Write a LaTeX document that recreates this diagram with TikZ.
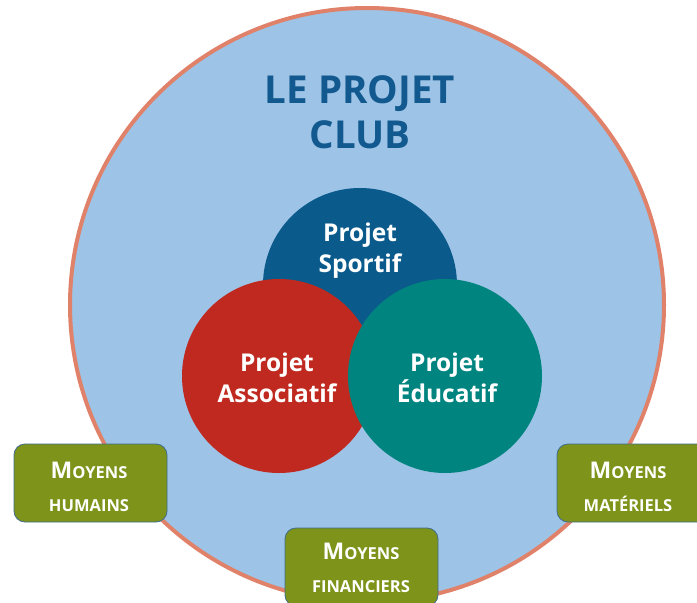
\documentclass[tikz,border=0pt]{standalone}
\usepackage{fontspec}
\setmainfont{Open Sans}
\definecolor{bigfill}{HTML}{9DC3E6}
\definecolor{bigline}{HTML}{E0826A}
\definecolor{sportc}{HTML}{0B5A8C}
\definecolor{assoc}{HTML}{C0291F}
\definecolor{educc}{HTML}{00847F}
\definecolor{boxc}{HTML}{7E931A}
\definecolor{boxline}{HTML}{3F6C8C}
\definecolor{titlec}{HTML}{11598F}
\newcommand{\bigM}{{\fontsize{23}{23}\selectfont M}}
\tikzset{
  proj/.style={circle, minimum size=194pt, inner sep=0pt},
  projtext/.style={text=white, font=\bfseries\fontsize{24.5}{31}\selectfont, align=center},
  moyen/.style={draw=boxline, line width=0.8pt, fill=boxc, rounded corners=11pt, minimum width=153pt, minimum height=78pt, inner sep=0pt},
  moytext/.style={text=white, font=\bfseries\fontsize{16.5}{33}\selectfont, align=center}
}
\begin{document}
\begin{tikzpicture}[x=1pt,y=-1pt]
\useasboundingbox (0,0) rectangle (697,603);
\begin{scope}
\clip (0,0) rectangle (697,603);
\node[circle, minimum size=594pt, inner sep=0pt, fill=bigfill, draw=bigline, line width=4pt] (club) at (367,305) {};
\node[text=titlec, font=\bfseries\fontsize{38.5}{45}\selectfont, align=center] (title) at (360,112) {LE PROJET\\CLUB};
\node[proj, fill=sportc] (sport) at (360,285) {};
\node[proj, fill=assoc] (asso) at (279,376) {};
\node[proj, fill=educc] (educ) at (445,376) {};
\node[projtext] (sportt) at (360,251) {Projet\\Sportif};
\node[projtext] (assot) at (277,378) {Projet\\Associatif};
\node[projtext] (educt) at (447,378) {Projet\\Éducatif};
\node[moyen] (hum) at (90.5,483) {};
\node[moyen] (mat) at (633.5,483) {};
\node[moyen] (fin) at (361.5,567) {};
\node[moytext] at (89,487) {\bigM OYENS\\HUMAINS};
\node[moytext] at (628,487) {\bigM OYENS\\MATÉRIELS};
\node[moytext] at (361,568) {\bigM OYENS\\FINANCIERS};
\end{scope}
\end{tikzpicture}
\end{document}
